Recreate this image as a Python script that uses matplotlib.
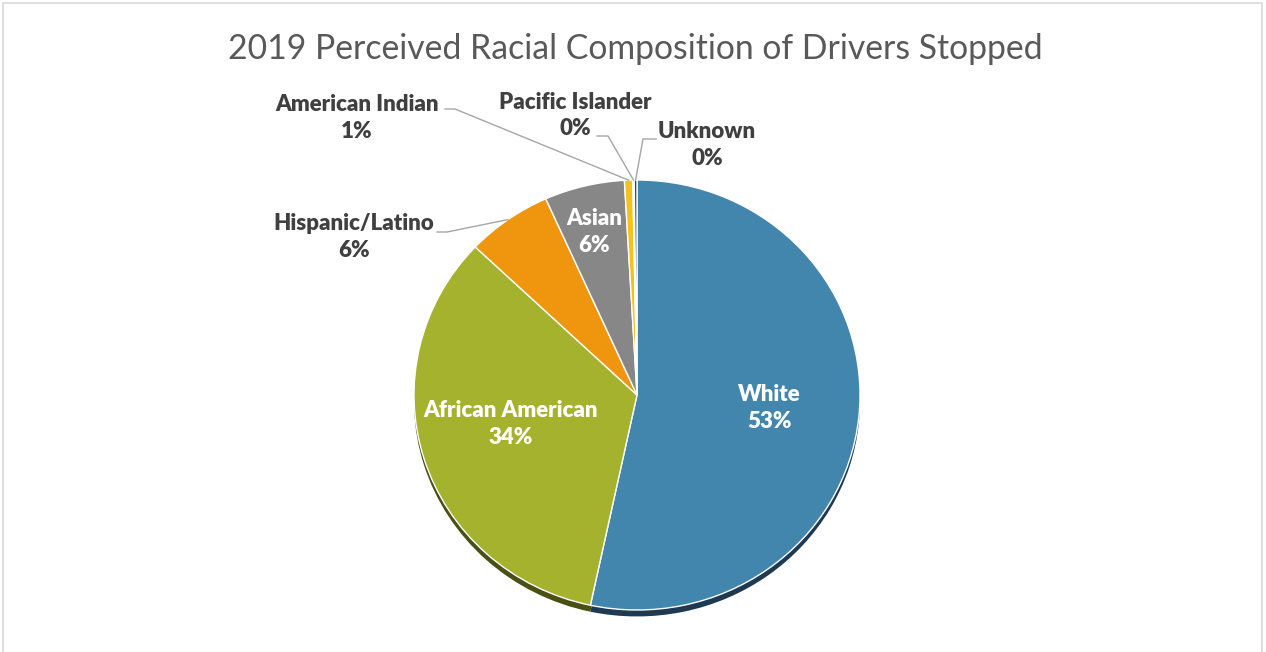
import matplotlib.pyplot as plt
from matplotlib.patches import Rectangle
import numpy as np

plt.rcParams["font.family"] = ["Lato", "DejaVu Sans"]

categories = ["White", "African American", "Hispanic/Latino", "Asian",
              "American Indian", "Pacific Islander", "Unknown"]
shares = [53.3, 33.7, 6.2, 5.8, 0.6, 0.1, 0.2]

colors = ["#4286AE", "#A4B22E", "#F0960E", "#878787", "#F5C21B", "#9DC3E6", "#264D6B"]
shadow_colors = ["#1E3A52", "#4A5014", "#6E4406", "#3C3C3C", "#6E560C", "#45566A", "#10222F"]

# label placement in pie units (radius = 1)
label_pos = {
    "White": (0.592, -0.06),
    "African American": (-0.565, -0.135),
    "Asian": (-0.193, 0.758),
    "Hispanic/Latino": (-1.269, 0.735),
    "American Indian": (-1.256, 1.29),
    "Pacific Islander": (-0.278, 1.30),
    "Unknown": (0.314, 1.163),
}
inside = {"White", "African American", "Asian"}

W, H = 1266, 652
cx, cy, rx, ry = 637, 395, 223, 215

fig = plt.figure(figsize=(W / 100, H / 100), dpi=100)
ax = fig.add_axes([0, 0, 1, 1])

# shadow pie, shifted down
ax.pie(shares, colors=shadow_colors, startangle=90, counterclock=False,
       center=(0, -0.03), wedgeprops=dict(linewidth=0))
wedges, _ = ax.pie(shares, colors=colors, startangle=90, counterclock=False,
                   wedgeprops=dict(edgecolor="white", linewidth=1.0))

ax.set_aspect("auto")
ax.set_xlim(-cx / rx, (W - cx) / rx)
ax.set_ylim((cy - H) / ry, cy / ry)
ax.axis("off")

total = sum(shares)
for name, val, w in zip(categories, shares, wedges):
    pct = int(np.floor(val / total * 100 + 0.5))
    x, y = label_pos[name]
    txt = f"{name}\n{pct}%"
    col = "white" if name in inside else "#404040"
    ax.text(x, y, txt, ha="center", va="center", color=col, fontsize=16,
            fontweight="heavy", linespacing=1.35)
    if name not in inside:
        # leader line from label to slice edge
        theta = np.deg2rad((w.theta1 + w.theta2) / 2)
        ex, ey = np.cos(theta), np.sin(theta)
        if name == "Hispanic/Latino":
            sx, sy = (437 - cx) / rx, (cy - 232) / ry
            pts = [(sx, sy), (sx + 10 / rx, sy), (ex, ey)]
        elif name == "American Indian":
            sx, sy = (445 - cx) / rx, (cy - 109) / ry
            pts = [(sx, sy), (sx + 10 / rx, sy), (ex, ey)]
        elif name == "Pacific Islander":
            sx, sy = (597 - cx) / rx, (cy - 136) / ry
            pts = [(sx, sy), (sx + 11 / rx, sy), (ex, ey)]
        else:
            sx, sy = (656 - cx) / rx, (cy - 139) / ry
            pts = [(sx, sy), (sx - 13 / rx, sy), (ex, ey)]
        xs, ys = zip(*pts)
        ax.plot(xs, ys, color="#A6A6A6", linewidth=1.0, zorder=1)

fig.text(635 / W, 1 - 49 / H, "2019 Perceived Racial Composition of Drivers Stopped",
         ha="center", va="center", fontsize=24.3, color="#595959", fontweight="normal")

fig.patches.append(Rectangle((3 / W, -0.01), (W - 7) / W, 1 - 3 / H + 0.01,
                             transform=fig.transFigure, fill=False,
                             edgecolor="#D9D9D9", linewidth=1.2))

fig.savefig("out.png", dpi=100, facecolor="white")
